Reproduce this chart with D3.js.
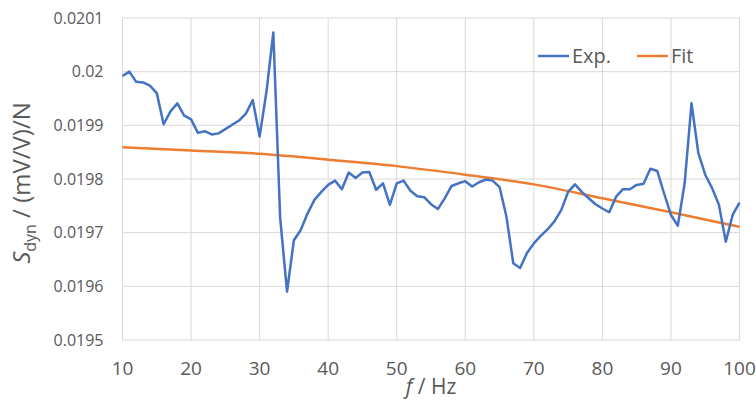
<!DOCTYPE html>
<html>
<head>
<meta charset="utf-8">
<script src="https://cdn.jsdelivr.net/npm/d3@7"></script>
<style>
  body { margin: 0; background: #fff; }
  text { font-family: "Open Sans", "Noto Sans", sans-serif; fill: #595959; }
</style>
</head>
<body>
<div id="chart"></div>
<script>
// frequencies in Hz
const freq = d3.range(10, 101);

// measured sensitivity, one value per Hz
const expValues = [
  0.019992, 0.020000, 0.019981, 0.019980, 0.019974, 0.019960, 0.019902, 0.019926, 0.019941, 0.019918,
  0.019911, 0.019886, 0.019889, 0.019883, 0.019885, 0.019893, 0.019901, 0.019909, 0.019922, 0.019947,
  0.019879, 0.019963, 0.020073, 0.019727, 0.019590, 0.019686, 0.019705, 0.019736, 0.019761, 0.019776,
  0.019789, 0.019797, 0.019781, 0.019812, 0.019802, 0.019812, 0.019813, 0.019780, 0.019792, 0.019752,
  0.019792, 0.019797, 0.019778, 0.019768, 0.019766, 0.019753, 0.019744, 0.019764, 0.019787, 0.019792,
  0.019796, 0.019786, 0.019794, 0.019799, 0.019797, 0.019785, 0.019730, 0.019643, 0.019634, 0.019662,
  0.019680, 0.019694, 0.019706, 0.019721, 0.019742, 0.019776, 0.019790, 0.019776, 0.019764, 0.019753,
  0.019745, 0.019738, 0.019767, 0.019781, 0.019781, 0.019789, 0.019791, 0.019819, 0.019815, 0.019773,
  0.019733, 0.019713, 0.019792, 0.019941, 0.019848, 0.019808, 0.019783, 0.019752, 0.019683, 0.019733,
  0.019756
];

// fit curve read every 10 Hz
const fitFreq = [10, 20, 30, 40, 50, 60, 70, 80, 90, 100];
const fitValues = [0.019859, 0.019853, 0.019847, 0.019836, 0.019824, 0.019808, 0.019790, 0.019764, 0.019738, 0.019711];

const xTicks = [10, 20, 30, 40, 50, 60, 70, 80, 90, 100];
const yTicks = [0.0195, 0.0196, 0.0197, 0.0198, 0.0199, 0.0200, 0.0201];
const yTickLabels = ["0.0195", "0.0196", "0.0197", "0.0198", "0.0199", "0.02", "0.0201"];

const seriesNames = ["Exp.", "Fit"];
const colors = ["#4472C4", "#ED7D31"];

const W = 756, H = 400;
const margin = { top: 18, right: 16.5, bottom: 60, left: 122.5 };
const width = W - margin.left - margin.right;
const height = H - margin.top - margin.bottom;

const svg = d3.select("#chart").append("svg")
  .attr("width", W)
  .attr("height", H);

const g = svg.append("g")
  .attr("transform", `translate(${margin.left},${margin.top})`);

const x = d3.scaleLinear().domain([10, 100]).range([0, width]);
const y = d3.scaleLinear().domain([0.0195, 0.0201]).range([height, 0]);

// Gridlines
g.append("g").selectAll("line.h")
  .data(yTicks)
  .join("line")
  .attr("x1", 0).attr("x2", width)
  .attr("y1", d => y(d)).attr("y2", d => y(d))
  .attr("stroke", "#d9d9d9").attr("stroke-width", 1);

g.append("g").selectAll("line.v")
  .data(xTicks)
  .join("line")
  .attr("x1", d => x(d)).attr("x2", d => x(d))
  .attr("y1", 0).attr("y2", height)
  .attr("stroke", "#d9d9d9").attr("stroke-width", 1);

// Y tick labels
g.append("g").selectAll("text")
  .data(yTicks)
  .join("text")
  .attr("x", -19)
  .attr("y", d => y(d))
  .attr("dy", "0.35em")
  .attr("text-anchor", "end")
  .style("font-size", "16px")
  .text((d, i) => yTickLabels[i]);

// X tick labels
g.append("g").selectAll("text")
  .data(xTicks)
  .join("text")
  .attr("x", d => x(d))
  .attr("y", height + 35)
  .attr("text-anchor", "middle")
  .style("font-size", "19px")
  .text(d => d);

// Axis titles
const xTitle = g.append("text")
  .attr("x", width / 2)
  .attr("y", height + 54)
  .attr("text-anchor", "middle")
  .style("font-size", "21px");
xTitle.append("tspan").style("font-style", "italic").text("f");
xTitle.append("tspan").text(" / Hz");

const yTitle = g.append("text")
  .attr("transform", `translate(${-margin.left + 30},${height / 2 + 4}) rotate(-90)`)
  .attr("text-anchor", "middle")
  .style("font-size", "24px");
yTitle.append("tspan").style("font-style", "italic").text("S");
yTitle.append("tspan").attr("dy", 6).style("font-size", "16px").text("dyn");
yTitle.append("tspan").attr("dy", -6).text(" / (mV/V)/N");

// Lines
const expLine = d3.line()
  .x((d, i) => x(freq[i]))
  .y(d => y(d));

const fitLine = d3.line()
  .x((d, i) => x(fitFreq[i]))
  .y(d => y(d))
  .curve(d3.curveMonotoneX);

g.append("path")
  .datum(fitValues)
  .attr("fill", "none")
  .attr("stroke", colors[1])
  .attr("stroke-width", 2.5)
  .attr("d", fitLine);

g.append("path")
  .datum(expValues)
  .attr("fill", "none")
  .attr("stroke", colors[0])
  .attr("stroke-width", 2.5)
  .attr("stroke-linejoin", "round")
  .attr("d", expLine);

// Legend
const legend = svg.append("g")
  .attr("transform", "translate(538,56)");

const items = legend.selectAll("g")
  .data(seriesNames)
  .join("g")
  .attr("transform", (d, i) => `translate(${i * 99},0)`);

items.append("line")
  .attr("x1", 0).attr("x2", 31)
  .attr("stroke", (d, i) => colors[i])
  .attr("stroke-width", 2.5);

items.append("text")
  .attr("x", 34)
  .attr("dy", "0.35em")
  .style("font-size", "20px")
  .text(d => d);
</script>
</body>
</html>
